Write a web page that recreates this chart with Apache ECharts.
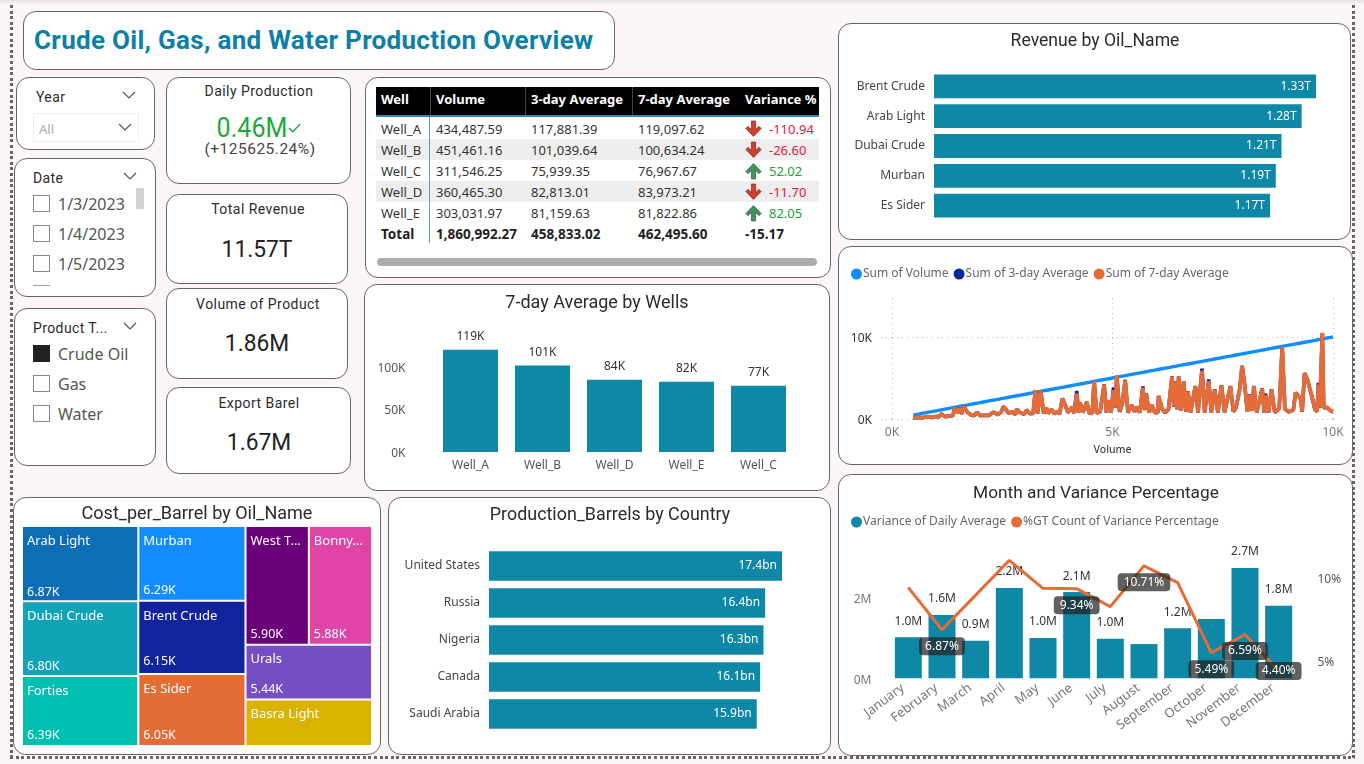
<!DOCTYPE html>
<html><head><meta charset="utf-8">
<script src="https://cdn.jsdelivr.net/npm/echarts@6/dist/echarts.min.js"></script>
<style>
html,body{margin:0;padding:0;width:1364px;height:764px;overflow:hidden;background:#fdf6f7;font-family:"Noto Sans",sans-serif;color:#333}
#topband{position:absolute;left:0;top:0;width:1364px;height:4px;background:linear-gradient(#e2e2e2,#f8f4f5)}
.fv{position:absolute;width:3px;background:repeating-linear-gradient(180deg,#666 0 3px,transparent 3px 5.6px)}
.fh{position:absolute;height:3px;background:repeating-linear-gradient(90deg,#666 0 3px,transparent 3px 5.6px)}
.card{position:absolute;box-sizing:border-box;background:#fff;border:1px solid #666;border-radius:13px;transform:translate(-1px,-1px)}
.c{position:absolute;transform:translate(-50%,-50%);white-space:nowrap}
.l{position:absolute;transform:translateY(-50%);white-space:nowrap}
.din{font-family:Roboto,sans-serif;color:#2b2b2b}
.kt{font-size:14px;letter-spacing:.45px}
.kv{font-size:24.5px;color:#222;transform:translate(-50%,-50%) scaleX(.93)}
.box{position:absolute;box-sizing:border-box;width:17px;height:17px;border:1px solid #888;background:#fff}
.opt{font-size:16px;color:#555}
svg.chev{position:absolute;width:14px;height:8px;fill:none;stroke:#555;stroke-width:1.2}
#chart{position:absolute;left:0;top:0;width:1364px;height:764px}
#tbl{position:absolute;left:376px;top:87px;width:443px;height:157px;font-size:13px}
.hdr{position:absolute;left:0;top:0;width:443px;height:30px;background:#000;border-bottom:2px solid #3d7fb8;box-sizing:border-box}
.hc{position:absolute;top:12px;transform:translateY(-50%);color:#fff;font-weight:700;font-size:13px;white-space:nowrap}
.hs{position:absolute;top:0;width:1px;height:28px;background:#444}
.rw{position:absolute;left:0;width:443px;height:21px}
.rc{position:absolute;top:50%;transform:translateY(-50%);white-space:nowrap;color:#333;font-size:13px}
</style></head><body>
<div id="topband"></div>
<div class="fv" style="left:10px;top:5px;height:754px"></div>
<div class="fv" style="left:1352px;top:5px;height:754px"></div>
<div class="fh" style="left:10px;top:756px;width:1345px"></div>

<div class="card" style="left:24px;top:12px;width:592px;height:59px"></div>
<div class="l" style="left:34px;top:40px;font-family:Roboto,sans-serif;font-weight:700;font-size:26px;color:#0e7fa5;letter-spacing:.3px">Crude Oil, Gas, and Water Production Overview</div>

<div class="card" style="left:17px;top:78px;width:139px;height:73px"></div>
<div class="card" style="left:15px;top:159px;width:142px;height:139px"></div>
<div class="card" style="left:15px;top:309px;width:142px;height:158px"></div>
<div class="card" style="left:167px;top:78px;width:185px;height:107px"></div>
<div class="card" style="left:167px;top:195px;width:182px;height:90px"></div>
<div class="card" style="left:167px;top:289px;width:182px;height:91px"></div>
<div class="card" style="left:167px;top:388px;width:185px;height:87px"></div>
<div class="card" style="left:366px;top:78px;width:466px;height:201px"></div>
<div class="card" style="left:365px;top:285px;width:466px;height:207px"></div>
<div class="card" style="left:14px;top:498px;width:368px;height:258px"></div>
<div class="card" style="left:389px;top:498px;width:443px;height:258px"></div>
<div class="card" style="left:839px;top:24px;width:513px;height:217px"></div>
<div class="card" style="left:839px;top:247px;width:515px;height:219px"></div>
<div class="card" style="left:839px;top:475px;width:515px;height:282px"></div>

<!-- slicers -->
<div class="l din" style="left:36px;top:97px;font-size:14px;letter-spacing:.4px">Year</div>
<svg class="chev" style="left:122px;top:91px" viewBox="0 0 14 8"><polyline points="1,1 7,7 13,1"/></svg>
<div style="position:absolute;left:33px;top:113px;width:106px;height:29px;box-sizing:border-box;border:1px solid #eee;background:#fff"></div>
<div class="l" style="left:39px;top:129px;font-size:13px;color:#aaa">All</div>
<svg class="chev" style="left:118px;top:123px" viewBox="0 0 14 8"><polyline points="1,1 7,7 13,1"/></svg>

<div class="l din" style="left:33px;top:178px;font-size:14px;letter-spacing:.4px">Date</div>
<svg class="chev" style="left:123px;top:172px" viewBox="0 0 14 8"><polyline points="1,1 7,7 13,1"/></svg>
<div class="box" style="left:33px;top:195px"></div><div class="l opt" style="left:58px;top:204px">1/3/2023</div>
<div class="box" style="left:33px;top:225px"></div><div class="l opt" style="left:58px;top:234px">1/4/2023</div>
<div class="box" style="left:33px;top:255px"></div><div class="l opt" style="left:58px;top:264px">1/5/2023</div>
<div style="position:absolute;left:33px;top:285px;width:17px;height:1px;background:#999"></div>
<div style="position:absolute;left:136px;top:188px;width:8px;height:21px;background:#d2d2d2"></div>

<div class="l din" style="left:33px;top:328px;font-size:14px;letter-spacing:.4px">Product T...</div>
<svg class="chev" style="left:123px;top:322px" viewBox="0 0 14 8"><polyline points="1,1 7,7 13,1"/></svg>
<div class="box" style="left:33px;top:345px;background:#222;border-color:#222"></div><div class="l opt" style="left:58px;top:354px">Crude Oil</div>
<div class="box" style="left:33px;top:375px"></div><div class="l opt" style="left:58px;top:384px">Gas</div>
<div class="box" style="left:33px;top:405px"></div><div class="l opt" style="left:58px;top:414px">Water</div>

<!-- KPI cards -->
<div class="c din kt" style="left:259px;top:91px">Daily Production</div>
<div class="c din kv" style="left:252px;top:128px;font-size:27px;color:#1ea83c">0.46M</div>
<svg style="position:absolute;left:288px;top:123px;width:13px;height:10px;fill:none;stroke:#1ea83c;stroke-width:1.4" viewBox="0 0 14 10"><polyline points="1,5 5,9 13,1"/></svg>
<div class="c" style="left:260px;top:149px;font-size:15.5px;color:#444;font-family:Roboto,sans-serif;letter-spacing:.5px">(+125625.24%)</div>
<div class="c din kt" style="left:258px;top:209px">Total Revenue</div>
<div class="c din kv" style="left:257px;top:248px">11.57T</div>
<div class="c din kt" style="left:258px;top:304px">Volume of Product</div>
<div class="c din kv" style="left:257px;top:342px">1.86M</div>
<div class="c din kt" style="left:259px;top:403px">Export Barel</div>
<div class="c din kv" style="left:259px;top:441px">1.67M</div>

<!-- table -->
<div id="tbl"></div>
<div style="position:absolute;left:377px;top:258px;width:440px;height:8px;border-radius:4px;background:#adadad"></div>

<div id="chart"></div>
<script>
/* ---------- table values ---------- */
const tableHeaders = ["Well","Volume","3-day Average","7-day Average","Variance %"];
const tableWells = ["Well_A","Well_B","Well_C","Well_D","Well_E"];
const tableVolume = ["434,487.59","451,461.16","311,546.25","360,465.30","303,031.97"];
const tableAvg3 = ["117,881.39","101,039.64","75,939.35","82,813.01","81,159.63"];
const tableAvg7 = ["119,097.62","100,634.24","76,967.67","83,973.21","81,822.86"];
const tableVariance = ["-110.94","-26.60","52.02","-11.70","82.05"];
const tableTotal = ["Total","1,860,992.27","458,833.02","462,495.60","-15.17"];

/* ---------- revenue bars ---------- */
const oilNames = ["Brent Crude","Arab Light","Dubai Crude","Murban","Es Sider"];
const oilRevenue = [1.33,1.28,1.21,1.19,1.17];

/* ---------- 7-day average bars ---------- */
const wellOrder = ["Well_A","Well_B","Well_D","Well_E","Well_C"];
const wellAvg7 = [119097.62,100634.24,83973.21,81822.86,76967.67];

/* ---------- production bars ---------- */
const countries = ["United States","Russia","Nigeria","Canada","Saudi Arabia"];
const countryBarrels = [17.4,16.4,16.3,16.1,15.9];

/* ---------- treemap ---------- */
const costNames = ["Arab Light","Dubai Crude","Forties","Murban","Brent Crude","Es Sider","West T...","Bonny...","Urals","Basra Light"];
const costValues = [6870,6800,6390,6290,6150,6050,5900,5880,5440,4600];
const costColors = ["#0D6EB5","#11A4B6","#01BFB0","#118DFF","#12239E","#E66C37","#6B007B","#E044A7","#744EC2","#D9B300"];
const costNoValue = ["Basra Light"];
const costLabelGap = [37,36,31,35,32,32,79,79,16,0];

/* ---------- volume line chart ---------- */
const lineVolume = [
480,600,700,800,900,1000,1060,1120,1200,1300,
1380,1424,1470,1523,1580,1629,1700,1780,1860,1932,
2000,2100,2200,2280,2330,2400,2480,2523,2580,2650,
2720,2800,2826,2900,3000,3053,3130,3200,3250,3300,
3340,3371,3440,3508,3540,3621,3680,3735,3800,3864,
3920,3990,4076,4130,4189,4230,4265,4330,4417,4470,
4540,4583,4640,4720,4811,4860,4909,4970,5023,5060,
5098,5160,5220,5288,5350,5439,5500,5553,5620,5689,
5730,5765,5830,5894,5960,6030,6045,6120,6190,6270,
6348,6390,6424,6465,6500,6560,6614,6670,6712,6770,
6879,6940,7030,7090,7182,7240,7318,7390,7470,7540,
7674,7740,7800,7880,7939,7990,8060,8114,8160,8205,
8270,8394,8440,8470,8540,8606,8680,8780,8848,8910,
9000,9100,9152,9200,9265,9300,9356,9420,9500,9590,
9640,9667,9700,9758,9790,9870,9950,10000];
const lineAvg3 = [
120,200,160,290,190,320,250,630,290,370,
400,1420,680,1380,630,1580,880,530,400,830,
400,460,420,780,800,520,880,1520,1180,680,
880,540,1220,780,580,1120,630,680,3520,680,
640,3420,680,1330,680,1170,620,880,620,2520,
1780,780,1430,720,3420,780,2050,780,2080,720,
680,4620,720,880,4230,780,2280,820,3850,1380,
5250,880,1780,4780,780,1680,880,1480,780,3970,
1080,3100,780,1680,760,800,2820,1280,780,1180,
5230,1480,4620,1180,5180,980,4620,880,3350,780,
4020,780,6130,780,4820,780,3620,780,4130,820,
4020,880,1380,3480,6480,4480,880,3000,980,4040,
780,3720,780,3080,780,3640,780,1280,8780,1180,
860,1080,3230,2880,2520,880,5580,4780,3180,1180,
880,4420,1380,10450,1380,1380,980,880];
const lineAvg7 = [
130,220,170,300,200,330,260,620,300,380,
420,1400,700,1350,650,1550,900,550,420,800,
420,480,440,800,780,540,900,1500,1200,700,
900,560,1200,800,600,1100,650,700,3500,700,
660,3400,700,1350,700,1150,640,900,640,2500,
1800,800,1450,740,3100,800,2000,800,2100,740,
700,4600,740,900,4200,800,2300,840,3500,1400,
5300,900,1800,4700,800,1700,900,1500,800,3800,
1100,3000,800,1700,780,820,2800,1300,800,1200,
5200,1500,4600,1200,5200,1000,4600,900,3300,800,
4000,800,5900,800,4600,800,3600,800,4100,840,
4000,900,1400,3500,6500,4500,900,2900,1000,4000,
800,3700,800,2900,800,3600,800,1300,8800,1200,
880,1100,3200,2900,2400,900,5600,4800,3200,1200,
900,4200,1400,10500,1400,1400,1000,900];

/* ---------- month combo ---------- */
const months = ["January","February","March","April","May","June","July","August","September","October","November","December"];
const monthVariance = [1.02,1.57,0.93,2.24,1.0,2.14,0.98,0.85,1.24,1.47,2.74,1.8];
const monthHiddenBarLabels = ["August","October"];
const monthPercent = [9.4,6.87,8.95,11.04,9.36,9.34,8.26,10.71,9.7,5.49,6.59,4.40];
const monthBadges = ["February","June","August","October","November","December"];

/* ---------- build table ---------- */
const ARROW = {
  down:'<svg width="17" height="19" viewBox="0 0 16 17"><path d="M6 1h4v8l3.2-3 2 2L8 15.5.8 8l2-2L6 9z" fill="#cf4030" stroke="#8e2a20" stroke-width=".7"/></svg>',
  up:'<svg width="17" height="19" viewBox="0 0 16 17"><path d="M6 16h4V8l3.2 3 2-2L8 1.5.8 9l2 2L6 8z" fill="#47915c" stroke="#2c6a40" stroke-width=".7"/></svg>'
};
const colX = [5,60,155,262,369];
let html = '<div class="hdr">';
tableHeaders.forEach((h,i)=>{html+=`<div class="hc" style="left:${colX[i]}px">${h}</div>`;});
[54,149,256].forEach(x=>{html+=`<div class="hs" style="left:${x}px"></div>`;});
html+='</div>';
tableWells.forEach((w,i)=>{
  const neg = tableVariance[i][0]==='-';
  html+=`<div class="rw" style="top:${31+i*21}px;background:${i%2?'#eeeeee':'#fff'}">`
   +`<div class="rc" style="left:5px">${w}</div><div class="rc" style="left:60px">${tableVolume[i]}</div>`
   +`<div class="rc" style="left:155px">${tableAvg3[i]}</div><div class="rc" style="left:262px">${tableAvg7[i]}</div>`
   +`<div class="rc" style="left:369px;line-height:0">${neg?ARROW.down:ARROW.up}</div>`
   +`<div class="rc" style="left:393px;color:${neg?'#e8153f':'#1d9e3e'}">${tableVariance[i]}</div></div>`;
});
html+=`<div class="rw" style="top:136px">`;
tableTotal.forEach((t,i)=>{html+=`<div class="rc" style="left:${colX[i]}px;font-weight:700;font-size:13.5px;color:#222">${t}</div>`;});
html+='</div><div style="position:absolute;left:53px;top:30px;width:1px;height:126px;background:#5b9bd5"></div>';
document.getElementById('tbl').innerHTML=html;

/* ---------- chart ---------- */
const chart = echarts.init(document.getElementById('chart'),null,{renderer:'canvas',width:1364,height:764});
const BAR='#0E88A6', BODY='"Noto Sans",sans-serif', TITLE='Roboto,sans-serif';
const mkTitle=(text,x,y,size)=>({text,left:x,top:y+2,padding:0,textAlign:'center',textVerticalAlign:'middle',
  textStyle:{fontFamily:TITLE,fontSize:size,fontWeight:400,color:'#2b2b2b'}});
const kFmt=v=>(v/1000).toFixed(0)+'K';
const hbar=(name,xi,data,fmt)=>({name,type:'bar',xAxisIndex:xi,yAxisIndex:xi,data,barCategoryGap:'20%',
  itemStyle:{color:BAR},label:{show:true,position:'insideRight',color:'#fff',fontSize:12,fontFamily:BODY,formatter:p=>fmt(p.value)}});
const pair=(ys)=>lineVolume.map((x,i)=>[x,ys[i]]);
const GRID='#bbb', DOT=[1,4];
const lowered=(color)=>({a:{color,fontSize:12,fontFamily:BODY,padding:[4,0,0,0]}});

chart.setOption({
  animation:false,
  textStyle:{fontFamily:BODY},
  title:[
    mkTitle('Revenue by Oil_Name',1095,40,17.6),
    mkTitle('7-day Average by Wells',597,301,18),
    mkTitle('Cost_per_Barrel by Oil_Name',197,512,18),
    mkTitle('Production_Barrels by Country',610,514,17.9),
    mkTitle('Month and Variance Percentage',1096,492,17.3)
  ],
  legend:[
    {left:846,top:263,icon:'circle',itemWidth:11,itemHeight:11,itemGap:5,selectedMode:false,
     data:['Sum of Volume','Sum of 3-day Average','Sum of 7-day Average'],
     textStyle:{color:'#666',fontSize:12,fontFamily:BODY,padding:[0,0,0,-4]}},
    {left:846,top:511,icon:'circle',itemWidth:11,itemHeight:11,itemGap:5,selectedMode:false,
     data:['Variance of Daily Average','%GT Count of Variance Percentage'],
     textStyle:{color:'#666',fontSize:12,fontFamily:BODY,padding:[0,0,0,-4]}}
  ],
  grid:[
    {left:934,top:71.5,width:382,height:149},
    {left:434.5,top:330,width:360,height:122},
    {left:489,top:547.5,width:293,height:185},
    {left:892,top:298,width:441,height:121},
    {left:891.5,top:537.3,width:404,height:141}
  ],
  xAxis:[
    {gridIndex:0,type:'value',min:0,max:1.33,show:false},
    {gridIndex:1,type:'category',data:wellOrder,axisLine:{show:false},axisTick:{show:false},axisLabel:{color:'#555',fontSize:12,margin:8}},
    {gridIndex:2,type:'value',min:0,max:17.4,show:false},
    {gridIndex:3,type:'value',min:0,max:10000,interval:5000,axisLine:{show:false},
     axisTick:{show:true,length:4,lineStyle:{color:GRID,type:DOT}},
     axisLabel:{color:'#777',fontSize:12,margin:8,formatter:kFmt,hideOverlap:false},
     splitLine:{show:true,lineStyle:{color:GRID,type:DOT}},
     name:'Volume',nameLocation:'middle',nameGap:26,nameTextStyle:{color:'#444',fontSize:10.5,fontWeight:500}},
    {gridIndex:4,type:'category',data:months,axisLine:{show:false},axisTick:{show:false},
     axisLabel:{color:'#777',fontSize:13,rotate:37,interval:0,margin:4,padding:[0,7,0,0]}}
  ],
  yAxis:[
    {gridIndex:0,type:'category',inverse:true,data:oilNames,axisLine:{show:false},axisTick:{show:false},axisLabel:{color:'#444',fontSize:12,margin:9}},
    {gridIndex:1,type:'value',min:0,max:142000,interval:50000,axisLine:{show:false},axisTick:{show:false},splitLine:{show:false},
     axisLabel:{margin:29,formatter:v=>`{a|${kFmt(v)}}`,rich:lowered('#555'),showMaxLabel:false}},
    {gridIndex:2,type:'category',inverse:true,data:countries,axisLine:{show:false},axisTick:{show:false},axisLabel:{color:'#444',fontSize:12,margin:9}},
    {gridIndex:3,type:'value',min:0,max:14750,interval:10000,axisLine:{show:false},
     axisTick:{show:true,length:12,lineStyle:{color:GRID,type:DOT}},
     axisLabel:{margin:20,formatter:v=>`{a|${kFmt(v)}}`,rich:lowered('#333'),showMaxLabel:false},
     splitLine:{show:true,showMaxLine:false,lineStyle:{color:GRID,type:DOT}}},
    {gridIndex:4,type:'value',min:0,max:3.5,interval:2,axisLine:{show:false},axisTick:{show:false},splitLine:{show:false},
     axisLabel:{margin:20,formatter:v=>`{a|${v}M}`,rich:lowered('#777'),showMaxLabel:false}},
    {gridIndex:4,type:'value',position:'right',min:3.96,max:12.42,axisLine:{show:false},axisTick:{show:false},splitLine:{show:false},
     axisLabel:{margin:22,customValues:[5,10],formatter:v=>`{a|${v}%}`,rich:lowered('#555')}}
  ],
  series:[
    hbar('Revenue',0,oilRevenue,v=>v.toFixed(2)+'T'),
    {name:'7-day Average',type:'bar',xAxisIndex:1,yAxisIndex:1,data:wellAvg7,barWidth:55,itemStyle:{color:BAR},
     label:{show:true,position:'top',distance:7,color:'#333',fontSize:12,formatter:p=>kFmt(p.value)}},
    hbar('Production',2,countryBarrels,v=>v.toFixed(1)+'bn'),
    {name:'Cost_per_Barrel',type:'treemap',left:23,top:527,width:348,height:218,roam:false,nodeClick:false,
     breadcrumb:{show:false},sort:'desc',
     levels:[{itemStyle:{gapWidth:2,borderWidth:0}}],
     label:{show:true,position:'insideTopLeft',padding:[7,4,0,4],
       formatter:p=>{const i=costNames.indexOf(p.name);
         const val=costNoValue.includes(p.name)?'':(p.value/1000).toFixed(2)+'K';
         return `{n|${p.name}}\n{g${i}| }\n{v|${val}}`;},
       rich:Object.assign({n:{color:'#fff',fontSize:13,lineHeight:14,fontFamily:BODY},
                           v:{color:'#fff',fontSize:12.5,lineHeight:14,fontFamily:BODY}},
         Object.fromEntries(costLabelGap.map((g,i)=>['g'+i,{lineHeight:g,height:g,fontSize:1}])))},
     data:costNames.map((n,i)=>({name:n,value:costValues[i],itemStyle:{color:costColors[i]}}))},
    {name:'Sum of Volume',type:'line',xAxisIndex:3,yAxisIndex:3,data:pair(lineVolume),showSymbol:false,symbol:'none',
     itemStyle:{color:'#118DFF'},lineStyle:{color:'#118DFF',width:3.4}},
    {name:'Sum of 3-day Average',type:'line',xAxisIndex:3,yAxisIndex:3,data:pair(lineAvg3),showSymbol:false,symbol:'none',
     itemStyle:{color:'#12239E'},lineStyle:{color:'#12239E',width:3.6}},
    {name:'Sum of 7-day Average',type:'line',xAxisIndex:3,yAxisIndex:3,data:pair(lineAvg7),showSymbol:false,symbol:'none',
     itemStyle:{color:'#E66C37'},lineStyle:{color:'#E66C37',width:3.8}},
    {name:'Variance of Daily Average',type:'bar',xAxisIndex:4,yAxisIndex:4,barWidth:27,itemStyle:{color:BAR},
     data:months.map((m,i)=>({value:monthVariance[i],label:{show:!monthHiddenBarLabels.includes(m)}})),
     label:{show:true,position:'top',distance:8,color:'#333',fontSize:12,backgroundColor:'rgba(255,255,255,0.82)',padding:[2,4],
       formatter:p=>p.value.toFixed(1)+'M'}},
    {name:'%GT Count of Variance Percentage',type:'line',xAxisIndex:4,yAxisIndex:5,symbol:'circle',symbolSize:1,showSymbol:true,showAllSymbol:true,
     itemStyle:{color:'#E66C37'},lineStyle:{color:'#E66C37',width:3},z:3,
     data:months.map((m,i)=>({value:monthPercent[i],
       label:{show:monthBadges.includes(m),position:m==='December'?'inside':'bottom',distance:7}})),
     label:{show:true,color:'#fff',fontSize:12,backgroundColor:'rgba(35,35,35,0.72)',borderRadius:4,padding:[3,6],
       formatter:p=>p.value.toFixed(2)+'%'}}
  ]
});
</script>
</body></html>
